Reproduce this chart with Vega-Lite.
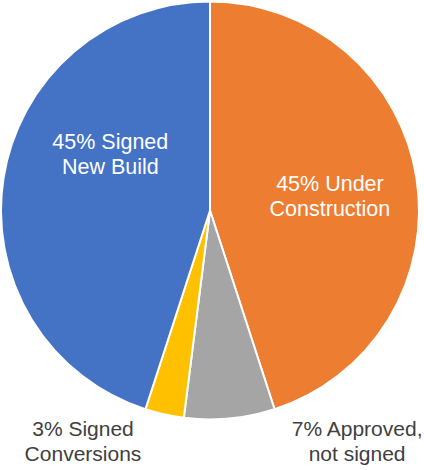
{
  "$schema": "https://vega.github.io/schema/vega-lite/v6.json",
  "width": 420,
  "height": 421,
  "autosize": {"type": "none"},
  "padding": {"left": 0, "top": 0, "right": 4, "bottom": 49},
  "background": "white",
  "config": {"view": {"stroke": null}},
  "data": {
    "values": [
      {"seq": 1, "cat": "Under Construction", "share": 45, "label": "45% Under\nConstruction"},
      {"seq": 2, "cat": "Approved, not signed", "share": 7, "label": "7% Approved,\nnot signed"},
      {"seq": 3, "cat": "Signed Conversions", "share": 3, "label": "3% Signed\nConversions"},
      {"seq": 4, "cat": "Signed New Build", "share": 45, "label": "45% Signed\nNew Build"}
    ]
  },
  "encoding": {
    "theta": {"field": "share", "type": "quantitative", "stack": true},
    "order": {"field": "seq", "type": "quantitative"}
  },
  "layer": [
    {
      "mark": {"type": "arc", "outerRadius": 209, "stroke": "white", "strokeWidth": 2},
      "encoding": {
        "color": {
          "field": "cat", "type": "nominal", "legend": null,
          "scale": {
            "domain": ["Under Construction", "Approved, not signed", "Signed Conversions", "Signed New Build"],
            "range": ["#ED7D31", "#A5A5A5", "#FFC000", "#4472C4"]
          }
        }
      }
    },
    {
      "mark": {"type": "text", "radius": 120.6, "thetaOffset": 0.052, "dy": -12.5, "font": "Liberation Sans", "fontSize": 21.5, "lineHeight": 25, "lineBreak": "\n", "color": "white", "align": "center", "baseline": "middle"},
      "encoding": {"text": {"condition": {"test": "datum.cat === 'Under Construction'", "field": "label"}, "value": ""}}
    },
    {
      "mark": {"type": "text", "radius": 114, "thetaOffset": 0.349, "dy": -12.5, "font": "Liberation Sans", "fontSize": 21.5, "lineHeight": 25, "lineBreak": "\n", "color": "white", "align": "center", "baseline": "middle"},
      "encoding": {"text": {"condition": {"test": "datum.cat === 'Signed New Build'", "field": "label"}, "value": ""}}
    },
    {
      "mark": {"type": "text", "radius": 264.5, "thetaOffset": 0.281, "dy": -12.5, "font": "Liberation Sans", "fontSize": 21, "lineHeight": 25, "lineBreak": "\n", "color": "#404040", "align": "center", "baseline": "middle"},
      "encoding": {"text": {"condition": {"test": "datum.cat === 'Signed Conversions'", "field": "label"}, "value": ""}}
    },
    {
      "mark": {"type": "text", "radius": 274.6, "thetaOffset": -0.471, "dy": -12.5, "font": "Liberation Sans", "fontSize": 21, "lineHeight": 25, "lineBreak": "\n", "color": "#404040", "align": "center", "baseline": "middle"},
      "encoding": {"text": {"condition": {"test": "datum.cat === 'Approved, not signed'", "field": "label"}, "value": ""}}
    }
  ]
}
